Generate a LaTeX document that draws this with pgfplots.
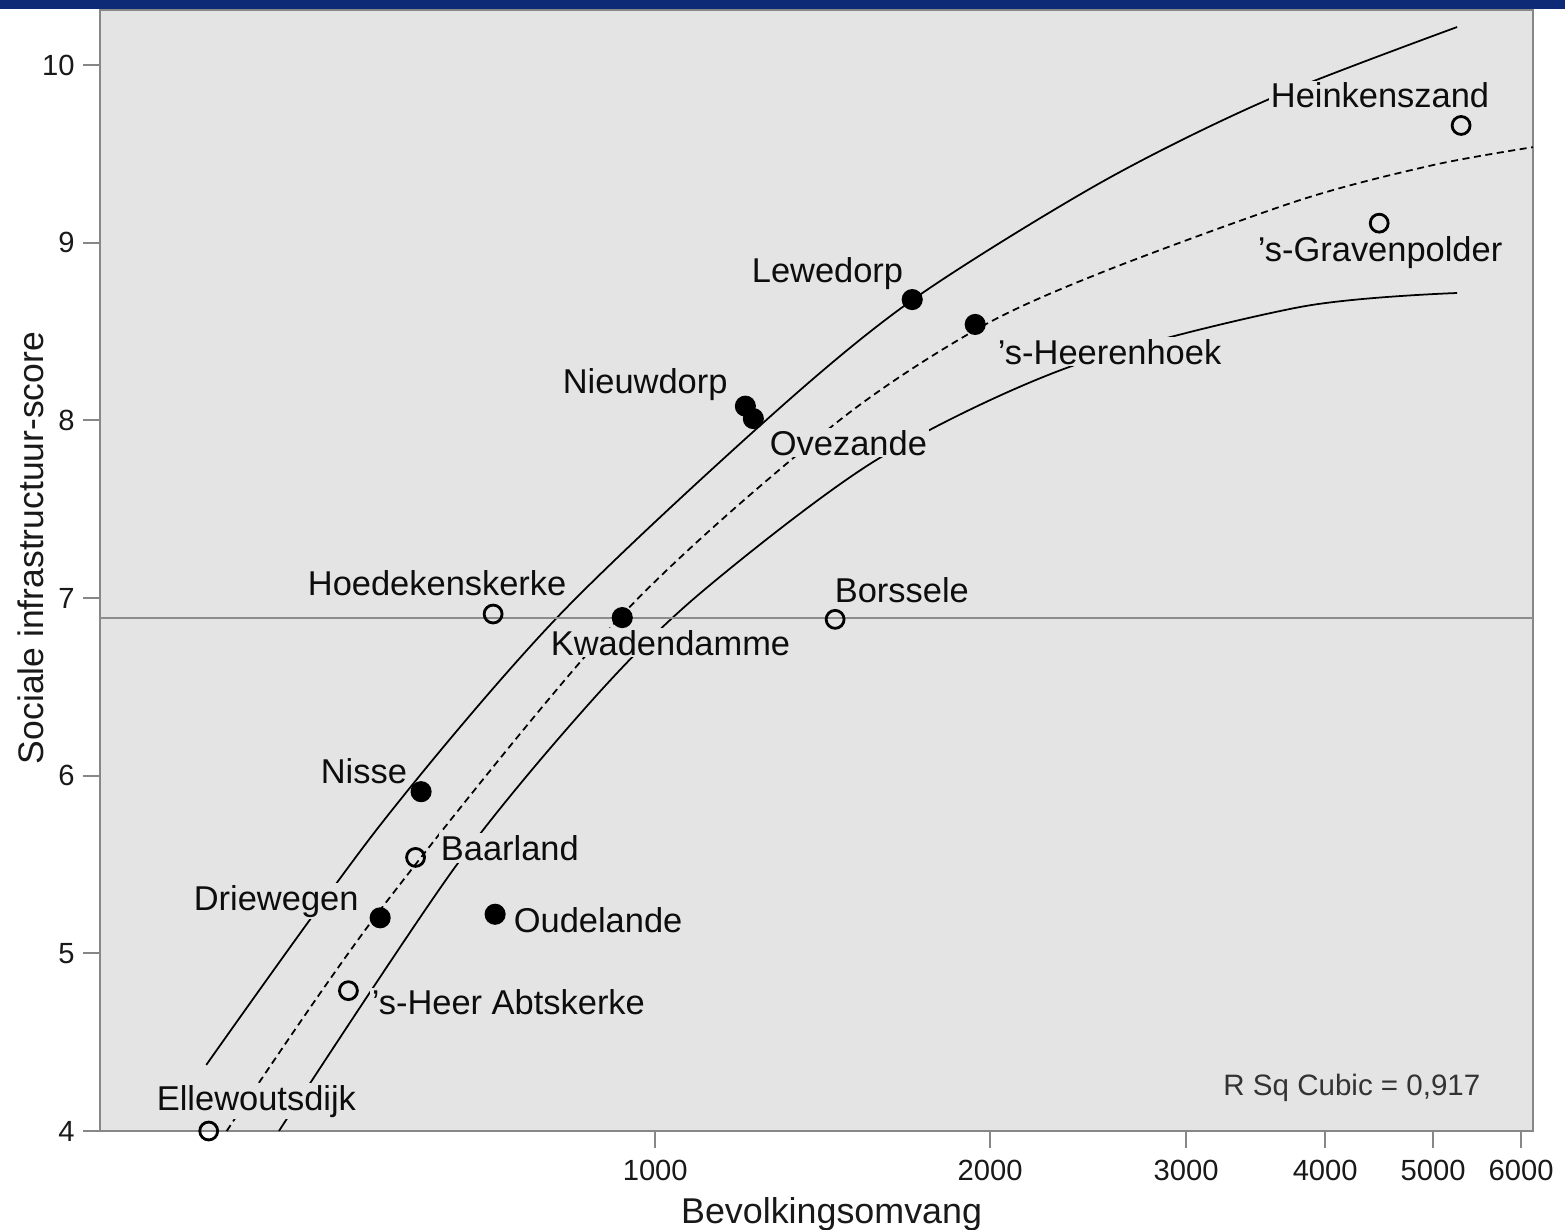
\documentclass[border=0pt]{standalone}
\usepackage{fontspec}
\setmainfont{Liberation Sans}
\usepackage{pgfplots}
\pgfplotsset{compat=1.18}

\definecolor{band}{RGB}{12,42,117}
\definecolor{panel}{RGB}{228,228,228}
\definecolor{axgray}{RGB}{135,135,135}
\definecolor{refline}{RGB}{140,140,140}

\tikzset{lab/.style={font=\fontsize{9.8}{11}\selectfont, fill=panel, inner sep=0.6pt,
                     text=black!95, anchor=base west}}

\begin{document}
\begin{tikzpicture}
\useasboundingbox (0,0) rectangle (15.65,12.29);
\fill[band] (0,12.20) rectangle (15.65,12.29);
\begin{axis}[
    at={(1.00cm,0.98cm)}, anchor=south west,
    scale only axis, width=14.33cm, height=11.21cm,
    xmode=log, xmin=317, xmax=6150,
    ymin=4, ymax=10.31,
    clip=false,
    axis background/.style={fill=panel},
    axis line style={axgray, line width=0.6pt},
    tick style={axgray, line width=0.6pt},
    tick align=outside,
    major tick length=0.17cm,
    xtick={1000,2000,3000,4000,5000,6000},
    xticklabels={1000,2000,3000,4000,5000,6000},
    minor xtick={},
    ytick={4,5,6,7,8,9,10},
    xtick pos=left, ytick pos=left,
    /pgf/number format/assume math mode=true,
    tick label style={font=\fontsize{8.3}{10}\selectfont, text=black!90},
    yticklabel style={xshift=0.04cm},
    xlabel={Bevolkingsomvang},
    ylabel={Sociale infrastructuur-score},
    xlabel style={at={(axis description cs:0.5105,-0.0821)}, anchor=base, inner sep=0pt,
                  font=\fontsize{10.2}{12}\selectfont, text=black!90},
    ylabel style={at={(axis description cs:-0.0398,0.5201)}, anchor=base, inner sep=0pt,
                  font=\fontsize{10.1}{12}\selectfont, text=black!90},
]

% upper confidence band
\addplot[black, line width=0.5pt, smooth] coordinates {
(395,4.372) (566,5.722) (817,6.893) (1264,8.013) (1702,8.677)
(2510,9.336) (3546,9.803) (5255,10.214)
};
% cubic fit
\addplot[black, line width=0.5pt, smooth, dash pattern=on 2pt off 1.3pt] coordinates {
(412,4.00) (566,5.244) (930,6.893) (1439,7.963) (1939,8.508)
(2510,8.829) (3797,9.240) (5000,9.437) (6150,9.538)
};
% lower confidence band
\addplot[black, line width=0.5pt, smooth] coordinates {
(459,4.00) (661,5.486) (878,6.426) (1098,7.028) (1580,7.777)
(2354,8.300) (3797,8.638) (5255,8.717)
};
% mean line
\addplot[refline, line width=0.6pt] coordinates {(317,6.89) (6150,6.89)};

\node[lab] at (axis description cs:0.8151,0.9126) {Heinkenszand};
\node[lab] at (axis description cs:0.8060,0.7752) {’s-Gravenpolder};
\node[lab] at (axis description cs:0.4529,0.7565) {Lewedorp};
\node[lab] at (axis description cs:0.6246,0.6842) {’s-Heerenhoek};
\node[lab] at (axis description cs:0.3210,0.6583) {Nieuwdorp};
\node[lab] at (axis description cs:0.4655,0.6030) {Ovezande};
\node[lab] at (axis description cs:0.1431,0.4781) {Hoedekenskerke};
\node[lab] at (axis description cs:0.5108,0.4719) {Borssele};
\node[lab] at (axis description cs:0.3126,0.4246) {Kwadendamme};
\node[lab] at (axis description cs:0.1521,0.3104) {Nisse};
\node[lab] at (axis description cs:0.2359,0.2417) {Baarland};
\node[lab] at (axis description cs:0.0635,0.1971) {Driewegen};
\node[lab] at (axis description cs:0.2868,0.1775) {Oudelande};
\node[lab] at (axis description cs:0.1877,0.1035) {’s-Heer Abtskerke};
\node[lab] at (axis description cs:0.0377,0.0187) {Ellewoutsdijk};
\node[font=\fontsize{8.4}{10}\selectfont, text=black!80, anchor=base east, inner sep=0pt]
    at (axis description cs:0.9637,0.0321) {R Sq Cubic = 0,917};

% villages, filled
\addplot[only marks, mark=*, mark size=2.8pt, black] coordinates {
(566,5.20) (616,5.91) (718,5.22) (934,6.89) (1205,8.08) (1225,8.01) (1702,8.68) (1939,8.54)
};
% villages, open
\addplot[only marks, mark=o, mark size=2.55pt, mark options={draw=black, fill=white, line width=0.8pt}] coordinates {
(397,4.00) (530,4.79) (609,5.54) (715,6.91) (1451,6.88) (4473,9.11) (5299,9.66)
};

\end{axis}
\end{tikzpicture}
\end{document}
